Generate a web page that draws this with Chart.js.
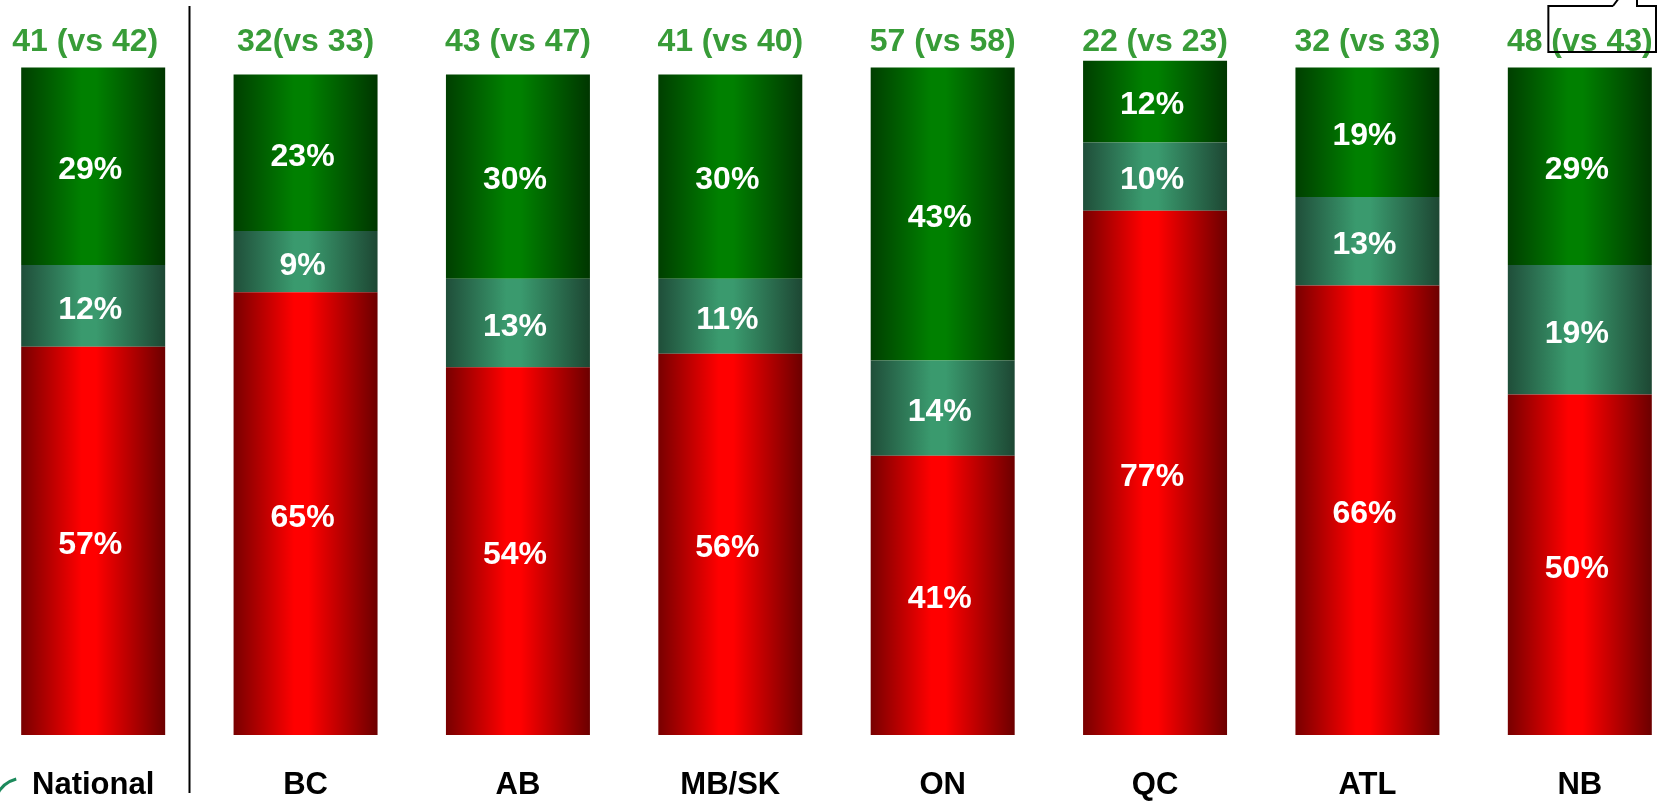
<!DOCTYPE html>
<html>
<head>
<meta charset="utf-8">
<script src="https://cdn.jsdelivr.net/npm/chart.js@4/dist/chart.umd.min.js"></script>
<style>
html,body{margin:0;padding:0;overflow:hidden;background:#fff;width:1658px;height:801px;}
#wrap{position:absolute;left:-13px;top:0;width:1699px;height:801px;}
canvas{display:block;}
</style>
</head>
<body>
<div id="wrap"><canvas id="c" width="1699" height="801"></canvas></div>
<script>
// ---- data ----
const categories = ['National', 'BC', 'AB', 'MB/SK', 'ON', 'QC', 'ATL', 'NB'];
const redValues   = [57, 65, 54, 56, 41, 77, 66, 50];
const tealValues  = [12, 9, 13, 11, 14, 10, 13, 19];
const greenValues = [29, 23, 30, 30, 43, 12, 19, 29];
const topLabels = ['41 (vs 42)', '32(vs 33)', '43 (vs 47)', '41 (vs 40)', '57 (vs 58)', '22 (vs 23)', '32 (vs 33)', '48 (vs 43)'];

// ---- styles ----
const SHIFT = 13; // canvas is shifted left by this many px
const BAR_PCT = 0.678;
const FONT = '"Liberation Sans", Arial, sans-serif';
const TOP_LABEL_NUDGE = [-8, 0, 0, 0, 0, 0, 0, 0];
const redStops   = ['#780000', '#ff0000', '#6c0000'];
const tealStops  = ['#1f4e39', '#3a9a6e', '#1d4733'];
const greenStops = ['#003f00', '#008000', '#003600'];

function gradientFor(stops) {
  return (context) => {
    const chart = context.chart;
    const xs = chart.scales.x;
    if (!chart.chartArea || !xs || context.dataIndex === undefined) return stops[1];
    const cx = xs.getPixelForValue(context.dataIndex);
    const w = xs.width / categories.length * BAR_PCT;
    const g = chart.ctx.createLinearGradient(cx - w / 2, 0, cx + w / 2, 0);
    g.addColorStop(0, stops[0]);
    g.addColorStop(0.42, stops[1]);
    g.addColorStop(0.52, stops[1]);
    g.addColorStop(1, stops[2]);
    return g;
  };
}

const decoPlugin = {
  id: 'deco',
  afterDatasetsDraw(chart) {
    const ctx = chart.ctx;
    const xs = chart.scales.x;
    ctx.save();
    // segment labels
    ctx.font = 'bold 32px ' + FONT;
    ctx.textAlign = 'center';
    ctx.textBaseline = 'middle';
    ctx.fillStyle = '#ffffff';
    chart.data.datasets.forEach((ds, i) => {
      chart.getDatasetMeta(i).data.forEach((bar, j) => {
        const y = (bar.y + bar.base) / 2;
        ctx.fillText(ds.data[j] + '%', bar.x - 3, y + 4);
      });
    });
    // top labels
    ctx.fillStyle = '#389c38';
    ctx.textBaseline = 'alphabetic';
    topLabels.forEach((t, j) => {
      ctx.fillText(t, xs.getPixelForValue(j) + TOP_LABEL_NUDGE[j], 51);
    });
    // callout box around last comparison
    const last = topLabels.length - 1;
    const cx = xs.getPixelForValue(last) + TOP_LABEL_NUDGE[last];
    const tw = ctx.measureText(topLabels[last]).width;
    const prefix = topLabels[last].split('(')[0];
    const bl = cx - tw / 2 + ctx.measureText(prefix).width - 3;
    const br = 1656 + SHIFT, bt = 6, bb = 52;
    ctx.strokeStyle = '#000';
    ctx.lineWidth = 2;
    ctx.beginPath();
    ctx.moveTo(1613 + SHIFT, bt);
    ctx.lineTo(bl, bt);
    ctx.lineTo(bl, bb);
    ctx.lineTo(br, bb);
    ctx.lineTo(br, bt);
    ctx.lineTo(1637 + SHIFT, bt);
    ctx.lineTo(1637 + SHIFT, -2);
    ctx.moveTo(1613 + SHIFT, bt);
    ctx.lineTo(1619 + SHIFT, -2);
    ctx.stroke();
    // separator line
    const sx = Math.round(xs.getPixelForValue(0.45)) + 0.5;
    ctx.lineWidth = 2;
    ctx.beginPath();
    ctx.moveTo(sx, 6);
    ctx.lineTo(sx, 793);
    ctx.stroke();
    // partial logo arc
    ctx.strokeStyle = '#1c8a5c';
    ctx.lineWidth = 3;
    ctx.beginPath();
    ctx.arc(24 + SHIFT, 808, 30, Math.PI * 205 / 180, Math.PI * 255 / 180);
    ctx.stroke();
    ctx.restore();
  }
};

new Chart(document.getElementById('c'), {
  type: 'bar',
  data: {
    labels: categories,
    datasets: [
      { data: redValues, backgroundColor: gradientFor(redStops) },
      { data: tealValues, backgroundColor: gradientFor(tealStops) },
      { data: greenValues, backgroundColor: gradientFor(greenStops) }
    ]
  },
  options: {
    responsive: false,
    animation: false,
    devicePixelRatio: 1,
    layout: { padding: { top: 54, left: 0, right: 0, bottom: 0 } },
    datasets: { bar: { barPercentage: BAR_PCT, categoryPercentage: 1, borderWidth: 0 } },
    plugins: { legend: { display: false }, tooltip: { enabled: false } },
    scales: {
      x: {
        stacked: true,
        grid: { display: false },
        border: { display: false },
        afterFit: (scale) => { scale.height = 66; },
        ticks: { color: '#000', padding: 24, font: { family: FONT, size: 31, weight: 'bold' }, maxRotation: 0, autoSkip: false }
      },
      y: { stacked: true, display: false, min: 0, max: 100 }
    }
  },
  plugins: [decoPlugin]
});
</script>
</body>
</html>
